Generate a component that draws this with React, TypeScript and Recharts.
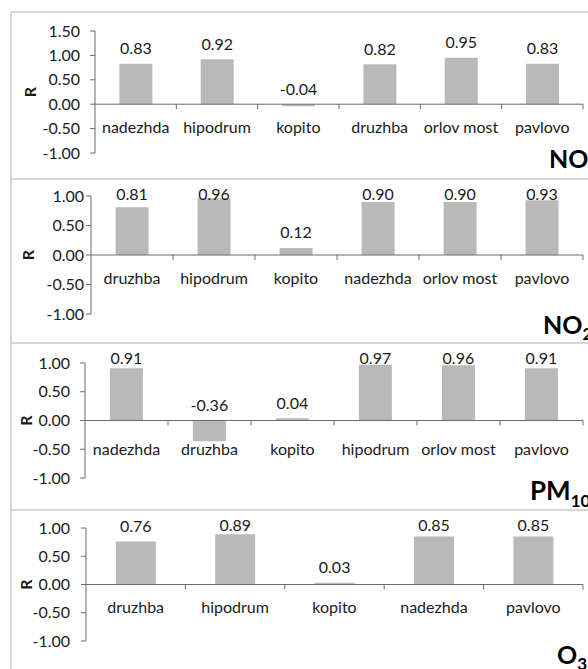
import React from 'react';
import { BarChart, Bar, XAxis, YAxis, ReferenceLine, LabelList } from 'recharts';

// ---------- data ----------
const noCategories = ['nadezhda', 'hipodrum', 'kopito', 'druzhba', 'orlov most', 'pavlovo'];
const noValues = [0.83, 0.92, -0.04, 0.82, 0.95, 0.83];

const no2Categories = ['druzhba', 'hipodrum', 'kopito', 'nadezhda', 'orlov most', 'pavlovo'];
const no2Values = [0.81, 0.96, 0.12, 0.9, 0.9, 0.93];

const pm10Categories = ['nadezhda', 'druzhba', 'kopito', 'hipodrum', 'orlov most', 'pavlovo'];
const pm10Values = [0.91, -0.36, 0.04, 0.97, 0.96, 0.91];

const o3Categories = ['druzhba', 'hipodrum', 'kopito', 'nadezhda', 'pavlovo'];
const o3Values = [0.76, 0.89, 0.03, 0.85, 0.85];

const ticksWide = [-1, -0.5, 0, 0.5, 1, 1.5];
const ticksStd = [-1, -0.5, 0, 0.5, 1];
const yLabel = 'R';

// ---------- style / layout ----------
const FONT = 'Lato, "Open Sans", sans-serif';
const FS = 16;
const W = 588;
const H = 669;
const PLOT_RIGHT = 583;
const XAXIS_H = 20;
const BAR_FILL = '#b9b9b9';
const AXIS = '#6b6b6b';
const TEXT = '#1a1a1a';
const BORDER = '#c8c8c8';

type Cfg = {
  top: number;
  height: number;
  plotTop: number;
  plotBottom: number;
  axisX: number;
  tickMargin: number;
  domain: [number, number];
  ticks: number[];
  catGap: number;
  rX: number;
};

const cfgNO: Cfg = { top: 12, height: 167, plotTop: 31, plotBottom: 153, axisX: 95, tickMargin: 10, domain: [-1, 1.5], ticks: ticksWide, catGap: 22, rX: 29 };
const cfgNO2: Cfg = { top: 179, height: 164, plotTop: 196, plotBottom: 314, axisX: 91, tickMargin: 2, domain: [-1, 1], ticks: ticksStd, catGap: 22, rX: 27 };
const cfgPM: Cfg = { top: 343, height: 167, plotTop: 363, plotBottom: 478, axisX: 85, tickMargin: 10, domain: [-1, 1], ticks: ticksStd, catGap: 28, rX: 25 };
const cfgO3: Cfg = { top: 510, height: 159, plotTop: 528, plotBottom: 641, axisX: 86, tickMargin: 11, domain: [-1, 1], ticks: ticksStd, catGap: 22, rX: 25 };

function Panel({ cfg, categories, values }: { cfg: Cfg; categories: string[]; values: number[] }) {
  const data = categories.map((c, i) => ({ name: c, value: values[i] }));
  const plotH = cfg.plotBottom - cfg.plotTop;
  const [dmin, dmax] = cfg.domain;
  const zeroFrac = (0 - dmin) / (dmax - dmin);
  const bwHalf = (PLOT_RIGHT - cfg.axisX) / categories.length / 2;

  const catTick = (props: any) => {
    const { x, y, payload } = props;
    const zy = Number(y) - zeroFrac * plotH;
    const half = payload && typeof payload.offset === 'number' && payload.offset > 0 ? payload.offset : bwHalf;
    return (
      <g>
        <line x1={Number(x) + half} x2={Number(x) + half} y1={zy} y2={zy + 5} stroke={AXIS} strokeWidth={1} />
        <text x={x} y={zy + cfg.catGap} textAnchor="middle" dominantBaseline="central" fontSize={FS} fontFamily={FONT} fill={TEXT}>
          {payload.value}
        </text>
      </g>
    );
  };

  const valueLabel = (props: any) => {
    const { x, y, width, height, value } = props;
    const top = Math.min(Number(y), Number(y) + Number(height));
    const cy = Math.max(top - 16, 14);
    return (
      <text x={Number(x) + Number(width) / 2} y={cy} textAnchor="middle" dominantBaseline="central" fontSize={FS} fontFamily={FONT} fill={TEXT}>
        {Number(value).toFixed(2)}
      </text>
    );
  };

  const rLabel = (props: any) => {
    const vb = props.viewBox || {};
    const cy = (vb.y ?? 0) + (vb.height ?? 0) / 2;
    return (
      <text x={cfg.rX} y={cy} transform={`rotate(-90, ${cfg.rX}, ${cy})`} textAnchor="middle" dominantBaseline="central" fontSize={16} fontWeight="bold" fontFamily={FONT} fill={TEXT}>
        {yLabel}
      </text>
    );
  };

  return (
    <div style={{ position: 'absolute', left: 0, top: cfg.top }}>
      <BarChart
        width={W}
        height={cfg.height}
        data={data}
        margin={{ top: cfg.plotTop - cfg.top, right: W - PLOT_RIGHT, bottom: cfg.top + cfg.height - cfg.plotBottom - XAXIS_H, left: 0 }}
        barCategoryGap="30%"
      >
        <XAxis dataKey="name" height={XAXIS_H} axisLine={false} tickLine={false} tickSize={0} tickMargin={0} interval={0} tick={catTick} />
        <YAxis
          width={cfg.axisX}
          domain={cfg.domain}
          ticks={cfg.ticks}
          interval={0}
          allowDataOverflow
          tickFormatter={(v: number) => v.toFixed(2)}
          tick={{ fontSize: FS, fontFamily: FONT, fill: TEXT }}
          tickSize={5}
          tickMargin={cfg.tickMargin}
          axisLine={{ stroke: AXIS }}
          tickLine={{ stroke: AXIS }}
          label={{ value: yLabel, content: rLabel }}
        />
        <Bar dataKey="value" fill={BAR_FILL} isAnimationActive={false}>
          <LabelList dataKey="value" content={valueLabel} />
        </Bar>
        <ReferenceLine y={0} stroke={AXIS} strokeWidth={1} />
      </BarChart>
    </div>
  );
}

export default function App() {
  const boundaries = [12, 179, 343, 510];
  return (
    <div style={{ position: 'absolute', left: 0, top: 0, width: W, height: H, overflow: 'hidden', background: '#fff' }}>
      <svg width={W} height={H} style={{ position: 'absolute', left: 0, top: 0 }}>
        <line x1={11} x2={11} y1={12} y2={H} stroke={BORDER} strokeWidth={1.5} />
        {boundaries.map((b) => (
          <line key={b} x1={11} x2={W} y1={b} y2={b} stroke={BORDER} strokeWidth={1.5} />
        ))}
        <text x={549} y={168} fontSize={25} fontWeight="bold" fontFamily={FONT} fill="#000">NO</text>
        <text x={543} y={334} fontSize={25} fontWeight="bold" fontFamily={FONT} fill="#000">
          NO<tspan fontSize={17} dy={6}>2</tspan>
        </text>
        <text x={530} y={500} fontSize={26} fontWeight="bold" fontFamily={FONT} fill="#000">
          PM<tspan fontSize={17} dy={7}>10</tspan>
        </text>
        <text x={557} y={664} fontSize={25} fontWeight="bold" fontFamily={FONT} fill="#000">
          O<tspan fontSize={17} dy={6}>3</tspan>
        </text>
      </svg>
      <Panel cfg={cfgNO} categories={noCategories} values={noValues} />
      <Panel cfg={cfgNO2} categories={no2Categories} values={no2Values} />
      <Panel cfg={cfgPM} categories={pm10Categories} values={pm10Values} />
      <Panel cfg={cfgO3} categories={o3Categories} values={o3Values} />
    </div>
  );
}
